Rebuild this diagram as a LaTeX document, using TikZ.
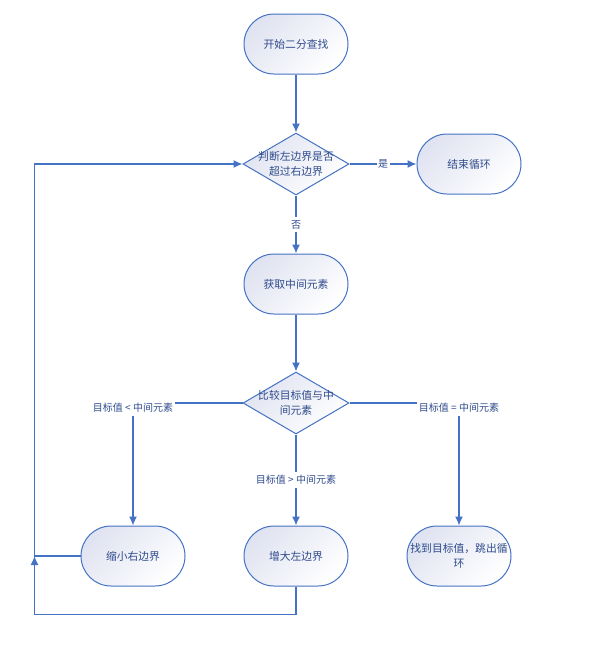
\documentclass[tikz,border=0pt]{standalone}
\usepackage{fontspec}
\newfontfamily\cjk{Noto Sans CJK SC}
\usetikzlibrary{arrows.meta,shapes.geometric,positioning}
\definecolor{lineblue}{HTML}{4472C4}
\definecolor{textblue}{HTML}{2F4B8C}
\definecolor{boxfill}{HTML}{E0E3F1}
\tikzset{>={Latex[length=9pt,width=8pt]}}

\begin{document}
\begin{tikzpicture}[x=1pt,y=-1pt,
	every node/.style={text=textblue,font=\cjk\fontsize{10.8}{15}\selectfont},
	state/.style={draw=lineblue,line width=1pt,rounded corners=30pt,minimum width=104pt,minimum height=60pt,
		top color=boxfill,bottom color=white,shading angle=45,align=center},
	test/.style={diamond,draw=lineblue,line width=1pt,aspect=1.7,inner xsep=-8pt,inner ysep=0pt,
		minimum width=106pt,minimum height=62pt,top color=boxfill,bottom color=white,shading angle=45,align=center},
	tlabel/.style={fill=white,inner xsep=1.5pt,inner ysep=3pt,font=\cjk\fontsize{10}{12}\selectfont},
	line/.style={draw=lineblue,line width=1.3pt}]
	\useasboundingbox (0,0) rectangle (595,656);
	\node[state] (begin) at (296,44) {开始二分查找};
	\node[test,below=58pt of begin] (check) {判断左边界是否\\超过右边界};
	\node[state,right=67pt of check] (stop) {结束循环};
	\node[state,below=58pt of check] (mid) {获取中间元素};
	\node[test,below=57pt of mid] (cmp) {比较目标值与中\\间元素};
	\node[state,below=91pt of cmp] (grow) {增大左边界};
	\node[state,left=58pt of grow] (shrink) {缩小右边界};
	\node[state,right=58pt of grow] (found) {找到目标值，跳出循\\环};
	\coordinate[left=46pt of shrink] (joint);
	\coordinate[below=28pt of grow] (bottom);

	\draw[line,->] (begin) -- (check);
	\draw[line,->] (check) -- node[tlabel] (yes) {是} (stop);
	\draw[line,->] (check) -- node[tlabel] (no) {否} (mid);
	\draw[line,->] (mid) -- (cmp);
	\draw[line,->] (cmp.west) -| node[tlabel,pos=0.5,yshift=-5pt] (lt) {目标值 < 中间元素} (shrink.north);
	\draw[line,->] (cmp) -- node[tlabel] (gt) {目标值 > 中间元素} (grow);
	\draw[line,->] (cmp.east) -| node[tlabel,pos=0.5,yshift=-5pt] (eq) {目标值 = 中间元素} (found.north);
	\draw[line,->] (grow) -- (bottom) -| (joint);
	\draw[line,->] (shrink) -- (joint) |- (check);
\end{tikzpicture}
\end{document}
